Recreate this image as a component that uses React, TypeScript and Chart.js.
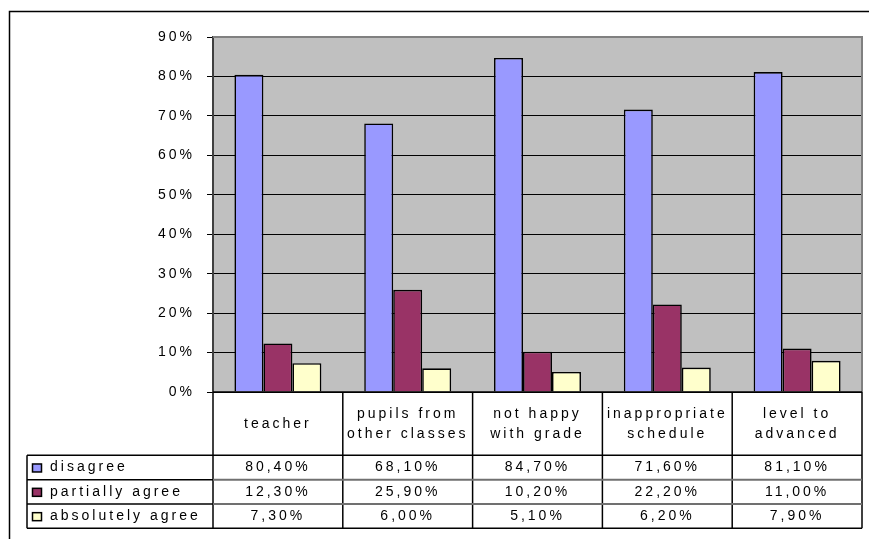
import React, { useEffect, useRef } from 'react';
import { Chart, registerables } from 'chart.js';

Chart.register(...registerables);

const categories = ['teacher', 'pupils from\nother classes', 'not happy\nwith grade', 'inappropriate\nschedule', 'level to\nadvanced'];
const seriesNames = ['disagree', 'partially agree', 'absolutely agree'];
const disagree = [80.4, 68.1, 84.7, 71.6, 81.1];
const partiallyAgree = [12.3, 25.9, 10.2, 22.2, 11.0];
const absolutelyAgree = [7.3, 6.0, 5.1, 6.2, 7.9];
const seriesColors = ['#9999FF', '#993366', '#FFFFCC'];
const yMin = 0;
const yMax = 90;
const yStep = 10;

const FONT_FAMILY = '"Liberation Sans", Arial, sans-serif';
const FONT_SIZE = 14;
const SPACING = '3px';

const fmt = (v: number) => v.toFixed(2).replace('.', ',') + '%';

const tablePlugin = {
  id: 'excelTable',
  beforeDraw(chart: any) {
    const { ctx, chartArea: a } = chart;
    ctx.save();
    ctx.fillStyle = '#ffffff';
    ctx.fillRect(0, 0, chart.width, chart.height);
    ctx.fillStyle = '#C0C0C0';
    ctx.fillRect(a.left, a.top, a.right - a.left, a.bottom - a.top);
    ctx.restore();
    (ctx as any).letterSpacing = SPACING;
  },
  afterDraw(chart: any) {
    const { ctx, chartArea: a, scales } = chart;
    const xs = scales.x;
    const n = categories.length;
    const cw = (a.right - a.left) / n;
    const top = a.bottom;
    const headerH = 63.3;
    const rowH = 24.35;
    const rows = [disagree, partiallyAgree, absolutelyAgree];
    const bottom = top + headerH + rowH * rows.length;
    const legendLeft = 27;

    const line = (x1: number, y1: number, x2: number, y2: number) => {
      ctx.beginPath();
      ctx.moveTo(x1, y1);
      ctx.lineTo(x2, y2);
      ctx.stroke();
    };

    ctx.save();
    (ctx as any).letterSpacing = SPACING;

    // plot area border (top/right)
    ctx.strokeStyle = '#808080';
    ctx.lineWidth = 2;
    ctx.beginPath();
    ctx.moveTo(a.left, a.top);
    ctx.lineTo(a.right, a.top);
    ctx.lineTo(a.right, a.bottom);
    ctx.stroke();

    // outer frame
    ctx.strokeStyle = '#000';
    ctx.lineWidth = 1.5;
    ctx.beginPath();
    ctx.moveTo(9.5, chart.height);
    ctx.lineTo(9.5, 11.5);
    ctx.lineTo(chart.width, 11.5);
    ctx.stroke();

    // table grid
    ctx.strokeStyle = '#000';
    ctx.lineWidth = 1.5;
    line(a.left, top, a.right, top);
    for (let i = 0; i <= n; i++) {
      const xx = a.left + i * cw;
      line(xx, top, xx, bottom);
    }
    line(legendLeft, top + headerH, legendLeft, bottom);
    line(legendLeft, top + headerH, a.right, top + headerH);
    for (let r = 1; r < rows.length; r++) {
      const y = top + headerH + r * rowH;
      ctx.strokeStyle = '#000';
      line(legendLeft, y, a.left, y);
      ctx.strokeStyle = '#707070';
      ctx.lineWidth = 2;
      line(a.left, y, a.right, y);
      ctx.lineWidth = 1.5;
    }
    ctx.strokeStyle = '#000';
    line(legendLeft, bottom, a.right, bottom);

    // texts
    ctx.fillStyle = '#000';
    ctx.font = `${FONT_SIZE}px ${FONT_FAMILY}`;
    ctx.textBaseline = 'middle';
    ctx.textAlign = 'center';
    const headerMid = top + headerH / 2 + 0.5;
    categories.forEach((c, i) => {
      const cx = xs.getPixelForValue(i);
      const parts = c.split('\n');
      const lh = 20;
      parts.forEach((p, k) => {
        const y = headerMid + (k - (parts.length - 1) / 2) * lh;
        ctx.fillText(p, cx, y);
      });
    });
    rows.forEach((vals, r) => {
      const y = top + headerH + r * rowH + rowH / 2;
      vals.forEach((v, i) => {
        const cx = xs.getPixelForValue(i);
        ctx.fillText(fmt(v), cx, y);
      });
      // legend
      ctx.textAlign = 'left';
      ctx.fillText(seriesNames[r], 50, y);
      ctx.textAlign = 'center';
      ctx.fillStyle = seriesColors[r];
      ctx.fillRect(32.5, y - 3.5, 9, 8);
      ctx.strokeStyle = '#000';
      ctx.lineWidth = 1.5;
      ctx.strokeRect(32.5, y - 3.5, 9, 8);
      ctx.fillStyle = '#000';
    });
    ctx.restore();
  },
};

export default function App() {
  const ref = useRef<HTMLCanvasElement | null>(null);
  useEffect(() => {
    if (!ref.current) return;
    const chart = new Chart(ref.current, {
      type: 'bar',
      data: {
        labels: categories,
        datasets: [
          { label: seriesNames[0], data: disagree, backgroundColor: seriesColors[0] },
          { label: seriesNames[1], data: partiallyAgree, backgroundColor: seriesColors[1] },
          { label: seriesNames[2], data: absolutelyAgree, backgroundColor: seriesColors[2] },
        ].map((d) => ({ ...d, borderColor: '#000', borderWidth: 1.6, categoryPercentage: 0.67, barPercentage: 1.0 })),
      },
      options: {
        responsive: false,
        animation: false,
        devicePixelRatio: 1,
        layout: { padding: { left: 0, top: 37, right: 7, bottom: 147 } },
        plugins: { legend: { display: false }, tooltip: { enabled: false } },
        scales: {
          x: { display: false },
          y: {
            min: yMin,
            max: yMax,
            afterFit: (s: any) => {
              s.width = 213;
            },
            ticks: {
              stepSize: yStep,
              color: '#000',
              padding: 12,
              font: { family: FONT_FAMILY, size: FONT_SIZE },
              callback: (v: any) => v + '%',
            },
            grid: { color: '#000', lineWidth: 1, tickLength: 6, tickColor: '#000', drawTicks: true },
            border: { color: '#404040', width: 2 },
          },
        },
      },
      plugins: [tablePlugin],
    });
    return () => chart.destroy();
  }, []);
  return (
    <div style={{ position: 'absolute', left: 0, top: 0, width: 869, height: 539 }}>
      <canvas ref={ref} width={869} height={539} style={{ display: 'block' }} />
    </div>
  );
}
